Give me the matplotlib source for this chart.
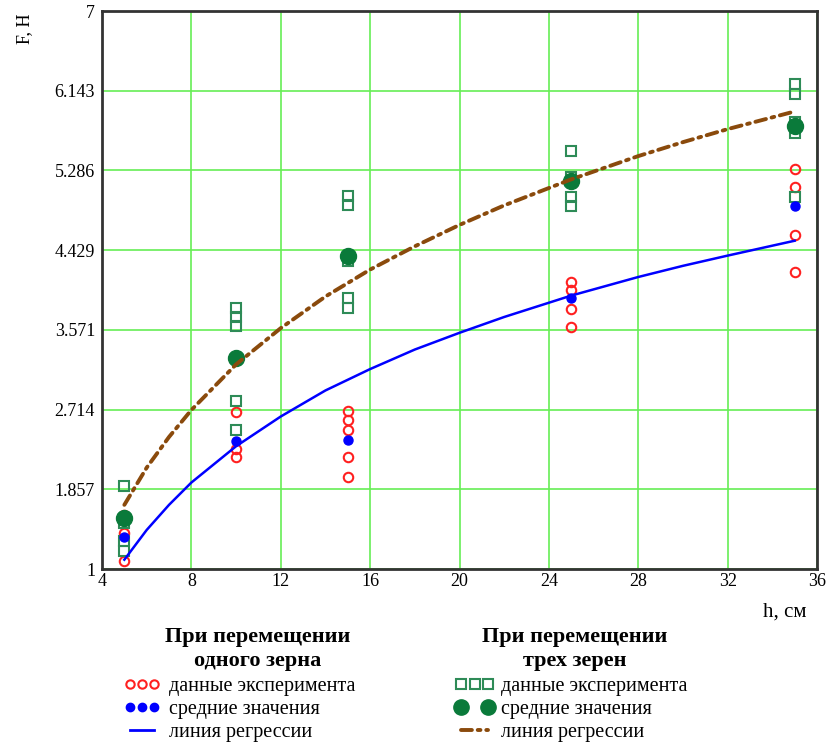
import numpy as np
import matplotlib
matplotlib.use("Agg")
import matplotlib.pyplot as plt
from matplotlib.lines import Line2D
from matplotlib.legend_handler import HandlerLine2D

plt.rcParams["font.family"] = ["Liberation Serif", "DejaVu Serif"]

# одно зерно: экспериментальные точки
h_one = [5, 5, 5,
         10, 10, 10,
         15, 15, 15, 15, 15,
         25, 25, 25, 25,
         35, 35, 35, 35]
f_one = [1.58, 1.39, 1.09,
         2.69, 2.29, 2.20,
         2.70, 2.60, 2.49, 2.20, 1.99,
         4.09, 4.00, 3.80, 3.60,
         5.30, 5.11, 4.59, 4.19]

# три зерна: экспериментальные точки
h_three = [5, 5, 5, 5,
           10, 10, 10, 10, 10,
           15, 15, 15, 15, 15,
           25, 25, 25, 25,
           35, 35, 35, 35, 35]
f_three = [1.89, 1.495, 1.30, 1.19,
           3.81, 3.71, 3.61, 2.81, 2.50,
           5.01, 4.91, 4.31, 3.91, 3.81,
           5.50, 5.22, 5.00, 4.90,
           6.21, 6.11, 5.81, 5.69, 5.00]

# средние значения
h_mean = [5, 10, 15, 25, 35]
f_mean_one = [1.34, 2.38, 2.39, 3.91, 4.90]
f_mean_three = [1.55, 3.27, 4.37, 5.17, 5.76]

# линии регрессии
h_reg = [5, 6, 7, 8, 10, 12, 14, 16, 18, 20, 22, 25, 28, 30, 32, 35]
f_reg_one = [1.10, 1.42, 1.69, 1.93, 2.32, 2.64, 2.92, 3.15, 3.36, 3.54,
             3.71, 3.94, 4.14, 4.26, 4.37, 4.53]
f_reg_three = [1.69, 2.09, 2.42, 2.71, 3.20, 3.59, 3.93, 4.22, 4.47, 4.70,
               4.91, 5.19, 5.44, 5.59, 5.73, 5.92]

x_ticks = [4, 8, 12, 16, 20, 24, 28, 32, 36]
y_ticks = [1, 1.857, 2.714, 3.571, 4.429, 5.286, 6.143, 7]
y_labels = ["1", "1.857", "2.714", "3.571", "4.429", "5.286", "6.143", "7"]

red = "#ff2020"
blue = "#0000ff"
green_sq = "#2e8b57"
green_dot = "#0a7a3a"
brown = "#8a4a0c"
dashdot = (0, (2.8, 1.5, 0.7, 1.5))

fig = plt.figure(figsize=(8.32, 7.49), dpi=100)
ax = fig.add_axes([0.1226, 0.2403, 0.8594, 0.745])

ax.plot(h_one, f_one, "o", ms=6.8, mfc="none", mec=red, mew=1.5, zorder=3)
ax.plot(h_three, f_three, "s", ms=7, mfc="none", mec=green_sq, mew=1.5, zorder=3)
ax.plot(h_mean, f_mean_one, "o", ms=6.5, color=blue, zorder=4)
ax.plot(h_mean, f_mean_three, "o", ms=11.5, color=green_dot, zorder=4)
ax.plot(h_reg, f_reg_one, color=blue, lw=1.8, zorder=5)
ax.plot(h_reg, f_reg_three, color=brown, lw=2.8, ls=dashdot,
        dash_capstyle="round", zorder=5)

ax.set_xlim(4, 36)
ax.set_ylim(1, 7)
ax.set_xticks(x_ticks)
ax.set_yticks(y_ticks)
ax.set_yticklabels(y_labels)
ax.grid(True, color="#66ee55", lw=1.2)
ax.set_axisbelow(True)
ax.tick_params(length=0, labelsize=13)
ax.tick_params(axis="x", pad=3)
ax.tick_params(axis="y", pad=5)
for s in ax.spines.values():
    s.set_color("#333333")
    s.set_linewidth(2)

fig.text(0.030, 0.962, "F, H", rotation=90, ha="center", va="center", fontsize=13)
fig.text(0.9435, 0.183, "h, см", ha="center", va="center", fontsize=15)

# заголовки легенд
title_kw = dict(ha="center", va="center", fontsize=16, fontweight="bold",
                multialignment="center", linespacing=1.3)
fig.text(0.310, 0.1335, "При перемещении\nодного зерна", **title_kw)
fig.text(0.691, 0.1335, "При перемещении\nтрех зерен", **title_kw)

# легенды
h1 = Line2D([], [], ls="none", marker="o", ms=6, mfc="none", mec=red, mew=1.5)
h2 = Line2D([], [], ls="none", marker="o", ms=6, color=blue)
h3 = Line2D([], [], color=blue, lw=2)
g1 = Line2D([], [], ls="none", marker="s", ms=6.5, mfc="none", mec=green_sq, mew=1.5)
g2 = Line2D([], [], ls="none", marker="o", ms=11, color=green_dot)
g3 = Line2D([], [], color=brown, lw=2.8, ls=dashdot, dash_capstyle="round")

labels = ["данные эксперимента", "средние значения", "линия регрессии"]
leg_kw = dict(frameon=False, fontsize=14.5, loc="upper left", labelspacing=0.2,
              borderpad=0, borderaxespad=0)

leg1 = fig.legend([h1, h2, h3], labels, bbox_to_anchor=(0.149, 0.096),
                  numpoints=3, handlelength=1.8, handletextpad=0.45, **leg_kw)
leg2 = fig.legend([g1, g2, g3], labels, bbox_to_anchor=(0.547, 0.096),
                  numpoints=3, handlelength=1.95, handletextpad=0.35,
                  handler_map={g2: HandlerLine2D(numpoints=2)}, **leg_kw)

fig.savefig("out.png", dpi=100)
